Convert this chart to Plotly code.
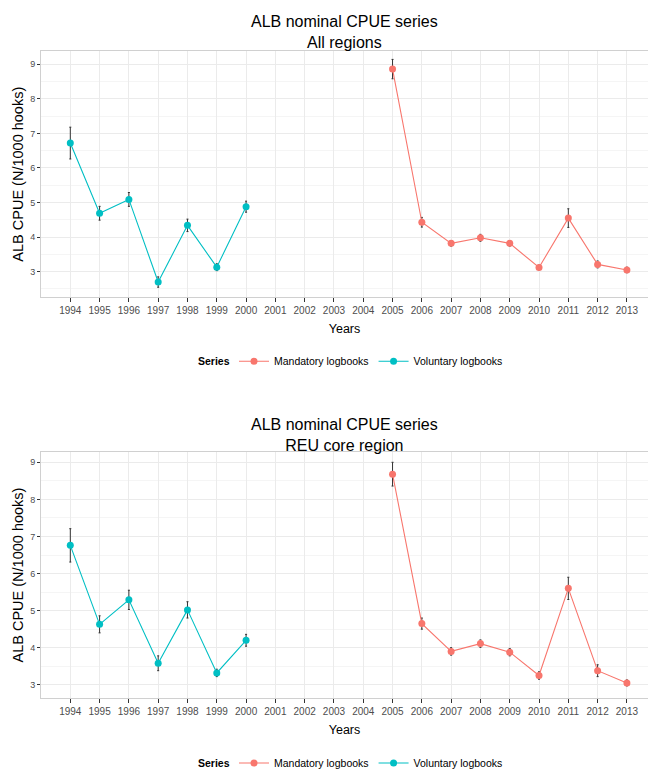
import plotly.graph_objects as go

# ALB nominal CPUE
vol_years = [1994, 1995, 1996, 1997, 1998, 1999, 2000]
man_years = [2005, 2006, 2007, 2008, 2009, 2010, 2011, 2012, 2013]
all_years = list(range(1994, 2014))

all_vol = [6.72, 4.69, 5.09, 2.70, 4.34, 3.13, 4.88]
all_vol_err = [0.46, 0.20, 0.20, 0.15, 0.18, 0.10, 0.16]
all_man = [8.86, 4.43, 3.82, 3.98, 3.82, 3.12, 4.55, 3.21, 3.05]
all_man_err = [0.28, 0.14, 0.08, 0.10, 0.08, 0.07, 0.27, 0.10, 0.08]

reu_vol = [6.76, 4.63, 5.29, 3.58, 5.02, 3.32, 4.20]
reu_vol_err = [0.45, 0.23, 0.26, 0.20, 0.22, 0.10, 0.16]
reu_man = [8.68, 4.65, 3.90, 4.11, 3.88, 3.25, 5.60, 3.38, 3.05]
reu_man_err = [0.32, 0.15, 0.10, 0.10, 0.10, 0.10, 0.30, 0.16, 0.08]

RED = '#F8766D'
CYAN = '#00BFC4'
FONT = 'Liberation Sans, Arial, sans-serif'

W, H = 648, 778
L = 41  # left margin in px


def py(px):
    # pixel row -> paper fraction
    return 1 - px / H


def pxx(px):
    # pixel column -> paper fraction
    return (px - L) / (W - L)


fig = go.Figure()


def add_series(x, y, err, color, name, xa, ya, leg):
    fig.add_trace(go.Scatter(
        x=x, y=y, mode='lines+markers', name=name,
        xaxis=xa, yaxis=ya, legend=leg,
        line=dict(color=color, width=1.1),
        marker=dict(color=color, size=7),
        error_y=dict(type='data', array=err, color='#333333', thickness=1, width=1),
    ))


add_series(man_years, all_man, all_man_err, RED, 'Mandatory logbooks', 'x', 'y', 'legend')
add_series(vol_years, all_vol, all_vol_err, CYAN, 'Voluntary logbooks', 'x', 'y', 'legend')
add_series(man_years, reu_man, reu_man_err, RED, 'Mandatory logbooks', 'x2', 'y2', 'legend2')
add_series(vol_years, reu_vol, reu_vol_err, CYAN, 'Voluntary logbooks', 'x2', 'y2', 'legend2')

xcommon = dict(
    range=[1993.0, 2013.72], tickmode='array', tickvals=all_years,
    ticktext=[str(y) for y in all_years],
    showgrid=True, gridcolor='#EBEBEB', gridwidth=1,
    ticks='outside', ticklen=4, tickcolor='#333333',
    tickfont=dict(size=10, color='#4D4D4D', family=FONT),
    showline=True, linecolor='#D0D0D0', mirror=True, zeroline=False,
    title=dict(text='Years', font=dict(size=12.5, color='#000000', family=FONT), standoff=9),
    automargin=False,
)
ycommon = dict(
    dtick=1, showgrid=True, gridcolor='#EBEBEB', gridwidth=1,
    minor=dict(dtick=0.5, showgrid=True, gridcolor='#F5F5F5'),
    ticks='outside', ticklen=3, tickcolor='#333333',
    tickfont=dict(size=9, color='#4D4D4D', family=FONT),
    showline=True, linecolor='#D0D0D0', mirror=True, zeroline=False,
    title=dict(text='ALB CPUE (N/1000 hooks)', font=dict(size=14.5, color='#000000', family=FONT), standoff=3),
    automargin=False,
)

legcommon = dict(
    orientation='h', x=pxx(234), xanchor='left', yanchor='middle',
    font=dict(size=10.5, color='#000000'), itemwidth=30, tracegroupgap=0,
    bgcolor='rgba(0,0,0,0)',
)

fig.update_layout(
    width=W, height=H,
    margin=dict(l=L, r=0, t=0, b=0),
    paper_bgcolor='white', plot_bgcolor='white',
    font=dict(family=FONT),
    xaxis=dict(xcommon, anchor='y', domain=[0, 1]),
    yaxis=dict(ycommon, anchor='x', domain=[py(300), py(52)], range=[2.27, 9.37]),
    xaxis2=dict(xcommon, anchor='y2', domain=[0, 1]),
    yaxis2=dict(ycommon, anchor='x2', domain=[py(705), py(457)], range=[2.65, 9.27]),
    legend=dict(legcommon, y=py(365)),
    legend2=dict(legcommon, y=py(771)),
    annotations=[
        dict(text='ALB nominal CPUE series<br>All regions', xref='paper', yref='paper',
             x=0.5, y=py(32), xanchor='center', yanchor='middle', showarrow=False,
             font=dict(size=16, color='#000000')),
        dict(text='ALB nominal CPUE series<br>REU core region', xref='paper', yref='paper',
             x=0.5, y=py(440), xanchor='center', yanchor='middle', showarrow=False,
             font=dict(size=16, color='#000000')),
        dict(text='<b>Series</b>', xref='paper', yref='paper',
             x=pxx(232), y=py(365), xanchor='right', yanchor='middle', showarrow=False,
             font=dict(size=10.5, color='#000000')),
        dict(text='<b>Series</b>', xref='paper', yref='paper',
             x=pxx(232), y=py(771), xanchor='right', yanchor='middle', showarrow=False,
             font=dict(size=10.5, color='#000000')),
    ],
)

fig.write_html("out.html", config={'displayModeBar': False},
               post_script="document.body.style.margin='0';")
